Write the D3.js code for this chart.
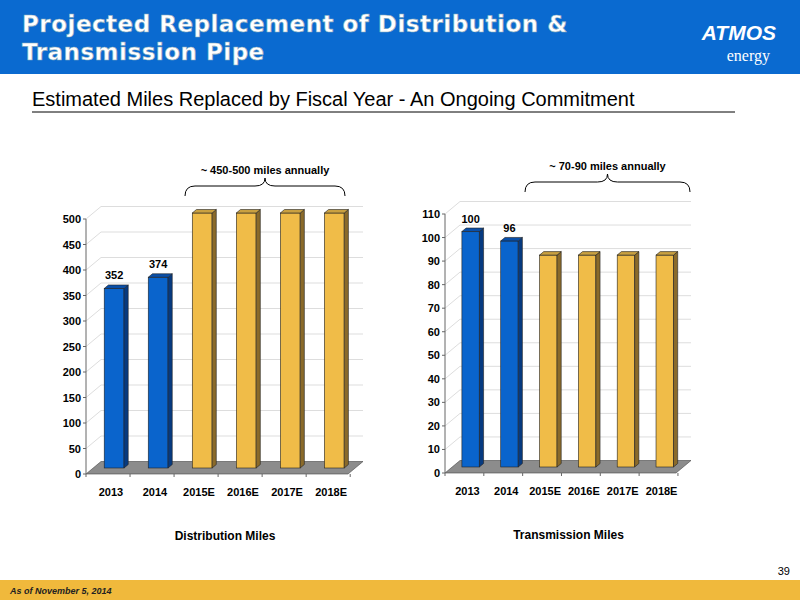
<!DOCTYPE html>
<meta charset="utf-8">
<head>
  <script src="https://d3js.org/d3.v7.min.js"></script>
  <style>
    body { margin: 0; }
    text { font-family: "Liberation Sans", Arial, sans-serif; }
  </style>
</head>
<body>
<script>

var years = ["2013", "2014", "2015E", "2016E", "2017E", "2018E"];
var distMiles = [352, 374, 500, 500, 500, 500];
var transMiles = [100, 96, 90, 90, 90, 90];
var distTicks = d3.range(0, 501, 50);
var transTicks = d3.range(0, 111, 10);
var actualCount = 2; // first two years are actuals (blue), rest estimates

var svg = d3.select("body").append("svg")
    .attr("width", 800).attr("height", 600);

svg.append("rect").attr("width", 800).attr("height", 600).attr("fill", "#fff");

// header
svg.append("rect").attr("width", 800).attr("height", 74).attr("fill", "#0a6ad0");
svg.append("text").attr("x", 22).attr("y", 32)
    .attr("fill", "#fff").attr("stroke", "#8ab").attr("stroke-width", 0.6)
    .style("font", "bold 23px 'DejaVu Sans'").style("letter-spacing", "0.5px")
    .text("Projected Replacement of Distribution &");
svg.append("text").attr("x", 22).attr("y", 60)
    .attr("fill", "#fff").attr("stroke", "#8ab").attr("stroke-width", 0.6)
    .style("font", "bold 23px 'DejaVu Sans'").style("letter-spacing", "0.5px")
    .text("Transmission Pipe");
svg.append("text").attr("x", 776).attr("y", 40).attr("text-anchor", "end")
    .attr("fill", "#fff").style("font", "italic bold 21px 'Liberation Sans'").text("ATMOS");
svg.append("text").attr("x", 770).attr("y", 61).attr("text-anchor", "end")
    .attr("fill", "#fff").style("font", "16px 'Liberation Serif'").text("energy");

svg.append("text").attr("x", 32).attr("y", 106)
    .style("font-size", "20px").attr("fill", "#000")
    .text("Estimated Miles Replaced by Fiscal Year - An Ongoing Commitment");
svg.append("line").attr("x1", 32).attr("x2", 735).attr("y1", 112).attr("y2", 112)
    .attr("stroke", "#000").attr("stroke-width", 1);

// footer
svg.append("rect").attr("y", 580).attr("width", 800).attr("height", 20).attr("fill", "#f0b93c");
svg.append("text").attr("x", 10).attr("y", 594)
    .style("font", "italic bold 9px 'Liberation Sans'").attr("fill", "#222")
    .text("As of November 5, 2014");
svg.append("text").attr("x", 790).attr("y", 575).attr("text-anchor", "end")
    .style("font-size", "11px").text("39");

var dx = 6, dy = -5;

function drawChart(opt) {
  var x = d3.scaleBand().domain(years).range([opt.x0, opt.x1]).paddingInner(0.55).paddingOuter(0.25);
  var y = d3.scaleLinear().domain([0, opt.max]).range([opt.y0, opt.y1]);
  var g = svg.append("g");

  // floor
  g.append("path")
      .attr("d", "M" + opt.x0 + "," + opt.y0 + "L" + opt.x1 + "," + opt.y0 +
        "L" + (opt.x1 + 2.5 * dx) + "," + (opt.y0 + 2.5 * dy) +
        "L" + (opt.x0 + 2.5 * dx) + "," + (opt.y0 + 2.5 * dy) + "Z")
      .attr("fill", "#8c8c8c").attr("stroke", "#444").attr("stroke-width", 0.6);

  // gridlines (back wall)
  g.selectAll(".grid").data(opt.ticks.slice(1)).enter().append("line")
      .attr("x1", opt.x0 + 2.5 * dx).attr("x2", opt.x1 + 2.5 * dx)
      .attr("y1", function(d) { return y(d) + 2.5 * dy; })
      .attr("y2", function(d) { return y(d) + 2.5 * dy; })
      .attr("stroke", "#ddd");
  g.selectAll(".gridd").data(opt.ticks.slice(1)).enter().append("line")
      .attr("x1", opt.x0).attr("x2", opt.x0 + 2.5 * dx)
      .attr("y1", function(d) { return y(d); })
      .attr("y2", function(d) { return y(d) + 2.5 * dy; })
      .attr("stroke", "#ddd");

  // y axis
  g.append("line").attr("x1", opt.x0).attr("x2", opt.x0)
      .attr("y1", opt.y0).attr("y2", y(opt.max)).attr("stroke", "#666");
  g.selectAll(".yt").data(opt.ticks).enter().append("text")
      .attr("x", opt.x0 - 5).attr("y", function(d) { return y(d) + 4; })
      .attr("text-anchor", "end")
      .style("font", "bold 11px 'Liberation Sans Narrow', 'Liberation Sans'")
      .text(function(d) { return d; });
  g.selectAll(".ytk").data(opt.ticks).enter().append("line")
      .attr("x1", opt.x0 - 3).attr("x2", opt.x0)
      .attr("y1", function(d) { return y(d); }).attr("y2", function(d) { return y(d); })
      .attr("stroke", "#666");

  // bars
  var bars = g.selectAll(".bar").data(opt.values).enter().append("g");
  bars.each(function(v, i) {
    var b = d3.select(this);
    var bx = x(years[i]) + dx * 1.2, bw = x.bandwidth(), top = y(v) + dy * 1.2, bot = opt.y0 + dy * 1.2;
    var actual = i < actualCount;
    var front = actual ? "#0a64cc" : "#f0bc48";
    var side = actual ? "#063a80" : "#8a6a2a";
    var topc = actual ? "#0a4fa8" : "#c9a040";
    b.append("rect").attr("x", bx).attr("y", top).attr("width", bw).attr("height", bot - top)
        .attr("fill", front).attr("stroke", "#222").attr("stroke-width", 0.6);
    b.append("path").attr("d", "M" + (bx + bw) + "," + bot + "L" + (bx + bw) + "," + top +
        "L" + (bx + bw + dx * 0.7) + "," + (top + dy * 0.7) + "L" + (bx + bw + dx * 0.7) + "," + (bot + dy * 0.7) + "Z")
        .attr("fill", side).attr("stroke", "#222").attr("stroke-width", 0.6);
    b.append("path").attr("d", "M" + bx + "," + top + "L" + (bx + bw) + "," + top +
        "L" + (bx + bw + dx * 0.7) + "," + (top + dy * 0.7) + "L" + (bx + dx * 0.7) + "," + (top + dy * 0.7) + "Z")
        .attr("fill", topc).attr("stroke", "#222").attr("stroke-width", 0.6);
    if (actual) {
      b.append("text").attr("x", bx + bw / 2).attr("y", top - 9).attr("text-anchor", "middle")
          .style("font", "bold 11px 'Liberation Sans'").text(v);
    }
  });

  // x labels + ticks
  g.selectAll(".xt").data(years).enter().append("text")
      .attr("x", function(d) { return x(d) + x.bandwidth() / 2 + 4; })
      .attr("y", opt.y0 + 22).attr("text-anchor", "middle")
      .style("font", "bold 11px 'Liberation Sans Narrow', 'Liberation Sans'")
      .text(function(d) { return d; });
  g.selectAll(".xtk").data(d3.range(years.length + 1)).enter().append("line")
      .attr("x1", function(i) { return opt.x0 + i * x.step(); })
      .attr("x2", function(i) { return opt.x0 + i * x.step(); })
      .attr("y1", opt.y0).attr("y2", opt.y0 + 3).attr("stroke", "#666");

  g.append("text").attr("x", (opt.x0 + opt.x1) / 2 + 8).attr("y", opt.y0 + 66)
      .attr("text-anchor", "middle").style("font", "bold 12px 'Liberation Sans'")
      .text(opt.title);

  // brace annotation
  var bx0 = opt.brace[0], bx1 = opt.brace[1], by = opt.braceY, mid = (bx0 + bx1) / 2;
  g.append("path")
      .attr("d", "M" + bx0 + "," + (by + 10) + "Q" + bx0 + "," + by + " " + (bx0 + 10) + "," + by +
        "L" + (mid - 10) + "," + by + "Q" + mid + "," + by + " " + mid + "," + (by - 8) +
        "Q" + mid + "," + by + " " + (mid + 10) + "," + by +
        "L" + (bx1 - 10) + "," + by + "Q" + bx1 + "," + by + " " + bx1 + "," + (by + 10))
      .attr("fill", "none").attr("stroke", "#000").attr("stroke-width", 1);
  g.append("text").attr("x", mid).attr("y", by - 12).attr("text-anchor", "middle")
      .style("font", "bold 11px 'Liberation Sans'").text(opt.note);
}

drawChart({ x0: 86, x1: 348, y0: 474, y1: 219, max: 500, values: distMiles, ticks: distTicks,
  title: "Distribution Miles", note: "~ 450-500 miles annually", brace: [185, 345], braceY: 186 });
drawChart({ x0: 445, x1: 676, y0: 473, y1: 214, max: 110, values: transMiles, ticks: transTicks,
  title: "Transmission Miles", note: "~ 70-90 miles annually", brace: [525, 690], braceY: 182 });

</script>
</body>
